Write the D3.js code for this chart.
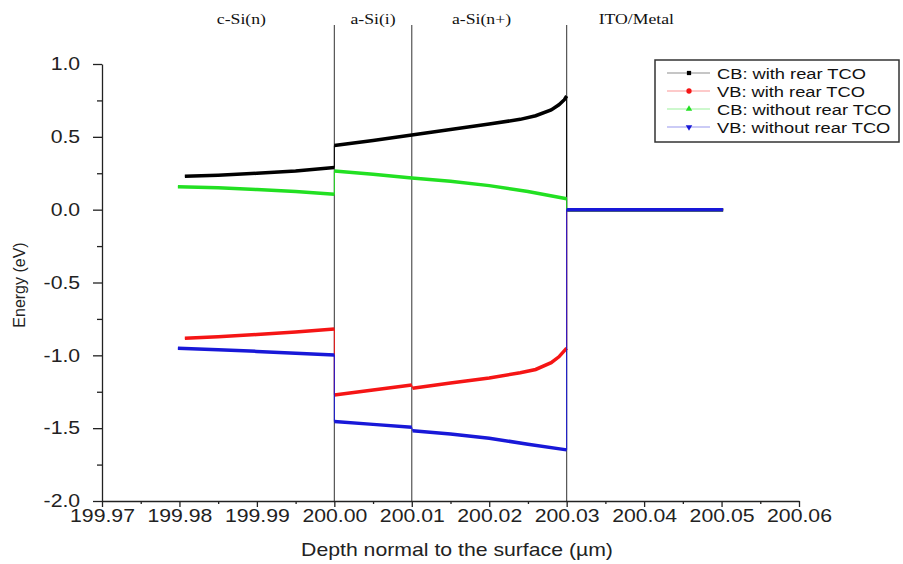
<!DOCTYPE html>
<html>
<head>
<meta charset="utf-8">
<script src="https://cdn.jsdelivr.net/npm/d3@7"></script>
<style>
  body { margin: 0; background: #fff; }
  svg { display: block; font-family: Arial, 'Liberation Sans', sans-serif; }
  .axis path, .axis line { stroke: #222; stroke-width: 1.3; }
  .axis text { fill: #222; font-size: 18px; font-family: Arial, 'Liberation Sans', sans-serif; }
  .layer { font-family: 'Liberation Serif', 'Times New Roman', serif; font-size: 15px; fill: #111; }
</style>
</head>
<body>
<svg width="903" height="564"></svg>
<script>
'use strict'

// tick labels
const xTicks = [199.97, 199.98, 199.99, 200.00, 200.01, 200.02, 200.03, 200.04, 200.05, 200.06]
const yTicks = [1.0, 0.5, 0.0, -0.5, -1.0, -1.5, -2.0]

// layer stack
const layers = ['c-Si(n)', 'a-Si(i)', 'a-Si(n+)', 'ITO/Metal']
const layerCenters = [199.988, 200.005, 200.019, 200.039]
const interfaces = [200.00, 200.01, 200.03]

// series: each is a list of runs (depth in um, energy in eV)
const seriesNames = ['CB: with rear TCO', 'VB: with rear TCO', 'CB: without rear TCO', 'VB: without rear TCO']
const seriesColors = ['#000000', '#f51515', '#22e022', '#1818d8']
const seriesSymbols = [d3.symbolSquare, d3.symbolCircle, d3.symbolTriangle, d3.symbolTriangle]

const cbWithTco = [
  [[199.9807, 0.230], [199.985, 0.237], [199.990, 0.250], [199.995, 0.266], [200.000, 0.290]],
  [[200.000, 0.440], [200.005, 0.475], [200.010, 0.513], [200.015, 0.550], [200.020, 0.588],
    [200.024, 0.620], [200.026, 0.645], [200.028, 0.685], [200.029, 0.720], [200.0297, 0.755], [200.030, 0.780]],
  [[200.030, 0.0], [200.0502, 0.0]]
]
const vbWithTco = [
  [[199.9807, -0.883], [199.985, -0.872], [199.990, -0.857], [199.995, -0.840], [200.000, -0.819]],
  [[200.000, -1.272], [200.005, -1.238], [200.010, -1.203]],
  [[200.0101, -1.226], [200.015, -1.190], [200.020, -1.155], [200.024, -1.120], [200.026, -1.097],
    [200.028, -1.050], [200.029, -1.010], [200.030, -0.950]],
  [[200.030, 0.0], [200.0502, 0.0]]
]
const cbWithoutTco = [
  [[199.9798, 0.158], [199.985, 0.150], [199.990, 0.138], [199.995, 0.124], [200.000, 0.106]],
  [[200.000, 0.266], [200.005, 0.243], [200.010, 0.217], [200.015, 0.195], [200.020, 0.165],
    [200.025, 0.125], [200.030, 0.075]],
  [[200.030, 0.0], [200.0502, 0.0]]
]
const vbWithoutTco = [
  [[199.9798, -0.951], [199.985, -0.962], [199.990, -0.973], [199.995, -0.985], [200.000, -0.997]],
  [[200.000, -1.455], [200.005, -1.474], [200.010, -1.494]],
  [[200.0101, -1.517], [200.015, -1.540], [200.020, -1.569], [200.025, -1.610], [200.030, -1.649]],
  [[200.030, 0.0], [200.0502, 0.0]]
]
const series = [cbWithTco, vbWithTco, cbWithoutTco, vbWithoutTco]

;(function () {
  const SX = 1.18 // the source figure is stretched horizontally
  const svg = d3.select('svg')

  const x = d3.scaleLinear().domain([199.97, 200.06]).range([102, 799])
  const y = d3.scaleLinear().domain([-2, 1]).range([501, 64])

  const mid = function (t) {
    const out = []
    for (let i = 0; i < t.length - 1; ++i) out.push((t[i] + t[i + 1]) / 2)
    return out
  }

  // layer interfaces
  svg.append('g').selectAll('line')
    .data(interfaces)
    .enter()
    .append('line')
    .attr('x1', function (d) { return x(d) })
    .attr('x2', function (d) { return x(d) })
    .attr('y1', 25)
    .attr('y2', y(-2))
    .attr('stroke', '#444')
    .attr('stroke-width', 1.1)

  svg.append('g').selectAll('text')
    .data(layers)
    .enter()
    .append('text')
    .attr('class', 'layer')
    .attr('text-anchor', 'middle')
    .attr('transform', function (d, i) { return 'translate(' + x(layerCenters[i]) + ',24) scale(' + SX + ',1)' })
    .text(function (d) { return d })

  // axes
  const axisX = svg.append('g')
    .attr('class', 'axis x')
    .attr('transform', 'translate(0,' + y(-2) + ')')
    .call(d3.axisBottom(x).tickValues(xTicks).tickSize(6).tickSizeOuter(0).tickPadding(2)
      .tickFormat(function (d) { return d.toFixed(2) }))
  axisX.selectAll('text').attr('transform', 'scale(' + SX + ',1)')
  svg.append('g')
    .attr('class', 'axis x minor')
    .attr('transform', 'translate(0,' + y(-2) + ')')
    .call(d3.axisBottom(x).tickValues(mid(xTicks)).tickSize(3).tickFormat(''))
    .select('.domain').remove()

  const axisY = svg.append('g')
    .attr('class', 'axis y')
    .attr('transform', 'translate(' + x(199.97) + ',0)')
    .call(d3.axisLeft(y).tickValues(yTicks).tickSize(9).tickSizeOuter(0).tickPadding(9.5)
      .tickFormat(function (d) { return d.toFixed(1) }))
  axisY.selectAll('text').attr('transform', 'scale(' + SX + ',1)')
  svg.append('g')
    .attr('class', 'axis y minor')
    .attr('transform', 'translate(' + x(199.97) + ',0)')
    .call(d3.axisLeft(y).tickValues(mid(yTicks)).tickSize(5).tickFormat(''))
    .select('.domain').remove()

  svg.append('text')
    .attr('text-anchor', 'middle')
    .attr('font-size', 18)
    .attr('fill', '#222')
    .attr('transform', 'translate(457,556) scale(' + SX + ',1)')
    .text('Depth normal to the surface (\u00b5m)')
  svg.append('text')
    .attr('text-anchor', 'middle')
    .attr('font-size', 16)
    .attr('fill', '#222')
    .attr('transform', 'translate(25,285) rotate(-90)')
    .text('Energy (eV)')

  // series
  const line = d3.line()
    .x(function (d) { return x(d[0]) })
    .y(function (d) { return y(d[1]) })
  const plot = svg.append('g').attr('class', 'panel')
  series.forEach(function (runs, i) {
    const g = plot.append('g')
    g.append('path')
      .attr('d', line(runs.flat()))
      .attr('fill', 'none')
      .attr('stroke', seriesColors[i])
      .attr('stroke-width', 1)
    g.selectAll('path.run')
      .data(runs)
      .enter()
      .append('path')
      .attr('class', 'run')
      .attr('d', line)
      .attr('fill', 'none')
      .attr('stroke', seriesColors[i])
      .attr('stroke-width', 3.5)
  })

  // legend
  const legend = svg.append('g').attr('transform', 'translate(655,60)')
  legend.append('rect')
    .attr('width', 244)
    .attr('height', 82)
    .attr('fill', '#fff')
    .attr('stroke', '#333')
    .attr('stroke-width', 1.5)
  const entry = legend.selectAll('g.entry')
    .data(seriesNames)
    .enter()
    .append('g')
    .attr('class', 'entry')
    .attr('transform', function (d, i) { return 'translate(0,' + (13 + i * 18) + ')' })
  entry.append('line')
    .attr('x1', 12)
    .attr('x2', 55)
    .attr('stroke', function (d, i) { return seriesColors[i] })
    .attr('stroke-opacity', 0.45)
    .attr('stroke-width', 1.2)
  entry.append('path')
    .attr('d', function (d, i) { return d3.symbol().type(seriesSymbols[i]).size(i === 1 ? 22 : 18)() })
    .attr('fill', function (d, i) { return seriesColors[i] })
    .attr('transform', function (d, i) { return 'translate(34,0)' + (i === 3 ? ' rotate(180)' : '') })
  entry.append('text')
    .attr('font-size', 15.5)
    .attr('fill', '#111')
    .attr('transform', 'translate(62,5.5) scale(' + SX + ',1)')
    .text(function (d) { return d })
})()
</script>
</body>
</html>
